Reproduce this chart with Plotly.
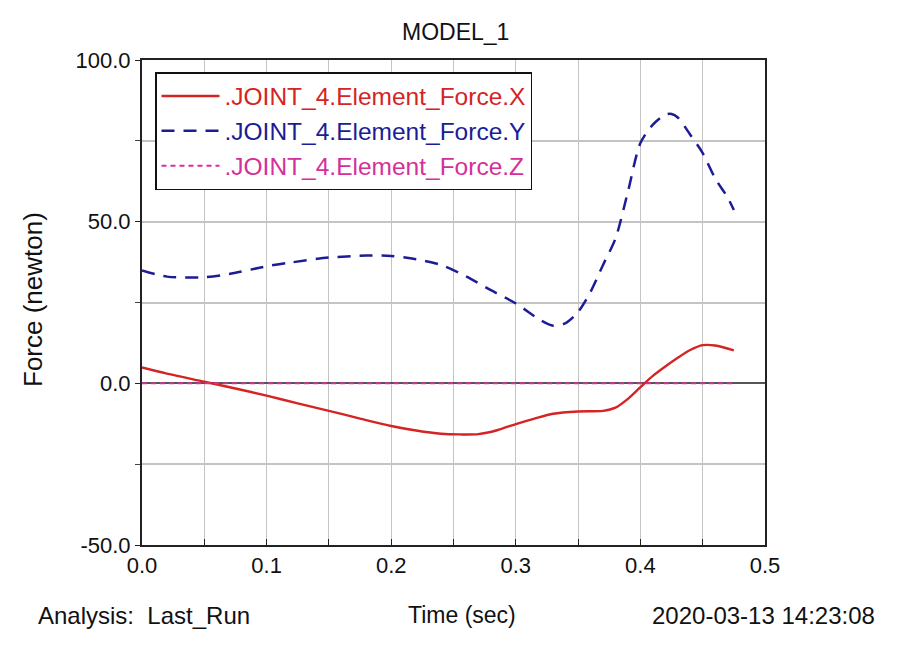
import plotly.graph_objects as go

# Time samples (sec)
time_x = [0.0, 0.02, 0.05, 0.075, 0.1, 0.125, 0.15, 0.175, 0.2, 0.22, 0.24, 0.255, 0.27, 0.285,
          0.3, 0.315, 0.33, 0.35, 0.37, 0.38, 0.39, 0.4, 0.41, 0.42, 0.43, 0.44, 0.45, 0.46, 0.475]
force_x = [4.9, 3.0, 0.5, -1.6, -3.8, -6.2, -8.5, -10.9, -13.2, -14.6, -15.6, -15.8, -15.7, -14.5,
           -12.6, -10.9, -9.4, -8.7, -8.5, -7.5, -4.8, -1.2, 2.3, 5.2, 7.9, 10.3, 11.8, 11.7, 10.2]

time_y = [0.0, 0.02, 0.05, 0.07, 0.1, 0.12, 0.15, 0.18, 0.2, 0.22, 0.24, 0.26, 0.28, 0.3,
          0.32, 0.33, 0.34, 0.35, 0.36, 0.37, 0.38, 0.39, 0.4, 0.41, 0.42, 0.425, 0.43, 0.44,
          0.45, 0.46, 0.47, 0.475]
force_y = [34.9, 33.0, 32.8, 33.8, 36.2, 37.4, 38.9, 39.5, 39.4, 38.4, 36.6, 33.1, 28.8, 24.7,
           19.5, 17.8, 18.6, 22.1, 28.3, 36.6, 44.8, 59.3, 74.3, 80.0, 83.1, 83.3, 82.2, 76.9,
           71.2, 63.4, 57.5, 53.6]

time_z = [0.0, 0.1, 0.2, 0.3, 0.4, 0.475]
force_z = [0.0, 0.0, 0.0, 0.0, 0.0, 0.0]

names = [".JOINT_4.Element_Force.X", ".JOINT_4.Element_Force.Y", ".JOINT_4.Element_Force.Z"]
colors = ["#d42424", "#1c1c96", "#d4309a"]

x_ticks = [0.0, 0.05, 0.1, 0.15, 0.2, 0.25, 0.3, 0.35, 0.4, 0.45, 0.5]
x_tick_text = ["0.0", "", "0.1", "", "0.2", "", "0.3", "", "0.4", "", "0.5"]
y_ticks = [-50, 0, 50, 100]
y_tick_text = ["-50.0", "0.0", "50.0", "100.0"]

FONT = "Liberation Sans, Arial, sans-serif"

# plot-area extents in page pixels (page has 8px body margin)
PL, PR, PT, PB = 142, 765, 60, 545
OFF = 8
W, H = 899, 652

fig = go.Figure()
fig.add_trace(go.Scatter(x=time_x, y=force_x, mode="lines",
                         line=dict(color=colors[0], width=2.4, shape="spline", smoothing=0.8),
                         name=f'<span style="color:{colors[0]}">{names[0]}</span>'))
fig.add_trace(go.Scatter(x=time_y, y=force_y, mode="lines",
                         line=dict(color=colors[1], width=2.5, dash="13px,9px", shape="spline", smoothing=0.8),
                         name=f'<span style="color:{colors[1]}">{names[1]}</span>'))
fig.add_trace(go.Scatter(x=time_z, y=force_z, mode="lines",
                         line=dict(color=colors[2], width=2, dash="5px,4px"),
                         name=f'<span style="color:{colors[2]}">{names[2]}</span>'))

fig.update_layout(
    width=W, height=H,
    margin=dict(l=PL - OFF, r=W - (PR - OFF), t=PT - OFF, b=H - (PB - OFF), pad=0),
    paper_bgcolor="white", plot_bgcolor="white",
    font=dict(family=FONT, size=22, color="#111111"),
    showlegend=True,
    legend=dict(x=(155 - PL) / (PR - PL), y=(PB - 72) / (PB - PT), xanchor="left", yanchor="top",
                bgcolor="white", bordercolor="#111111", borderwidth=1.5,
                font=dict(size=24.5, family=FONT), tracegroupgap=0, itemwidth=58),
    xaxis=dict(range=[0, 0.5], tickvals=x_ticks, ticktext=x_tick_text,
               showgrid=True, gridcolor="#c4c4c4", gridwidth=1.2,
               showline=True, linecolor="#222222", linewidth=2, mirror=True,
               ticks="inside", ticklen=6, tickcolor="#222222",
               zeroline=False, tickfont=dict(size=22)),
    yaxis=dict(range=[-50, 100], tickvals=y_ticks, ticktext=y_tick_text,
               showgrid=False,
               minor=dict(dtick=25, tick0=0, showgrid=True, gridcolor="#c4c4c4", gridwidth=2,
                          ticks="outside", ticklen=5, tickcolor="#444444"),
               showline=True, linecolor="#222222", linewidth=2, mirror=True,
               ticks="outside", ticklen=5, tickcolor="#222222",
               zeroline=True, zerolinecolor="#555555", zerolinewidth=2,
               tickfont=dict(size=22)),
)


def px_to_paper_x(px):
    return (px - PL) / (PR - PL)


def px_to_paper_y(py):
    return (PB - py) / (PB - PT)


fig.add_annotation(text="MODEL_1", x=px_to_paper_x(455), y=px_to_paper_y(32), xref="paper", yref="paper",
                   showarrow=False, font=dict(size=23), xanchor="center", yanchor="middle")
fig.add_annotation(text="Force (newton)", x=px_to_paper_x(33), y=px_to_paper_y(300), xref="paper", yref="paper",
                   showarrow=False, textangle=-90, font=dict(size=26), xanchor="center", yanchor="middle")
fig.add_annotation(text="Analysis:  Last_Run", x=px_to_paper_x(36), y=px_to_paper_y(615), xref="paper", yref="paper",
                   showarrow=False, font=dict(size=24), xanchor="left", yanchor="middle")
fig.add_annotation(text="Time (sec)", x=px_to_paper_x(462), y=px_to_paper_y(615), xref="paper", yref="paper",
                   showarrow=False, font=dict(size=23), xanchor="center", yanchor="middle")
fig.add_annotation(text="2020-03-13 14:23:08", x=px_to_paper_x(877), y=px_to_paper_y(615), xref="paper", yref="paper",
                   showarrow=False, font=dict(size=24), xanchor="right", yanchor="middle")

fig.write_html("out.html")
